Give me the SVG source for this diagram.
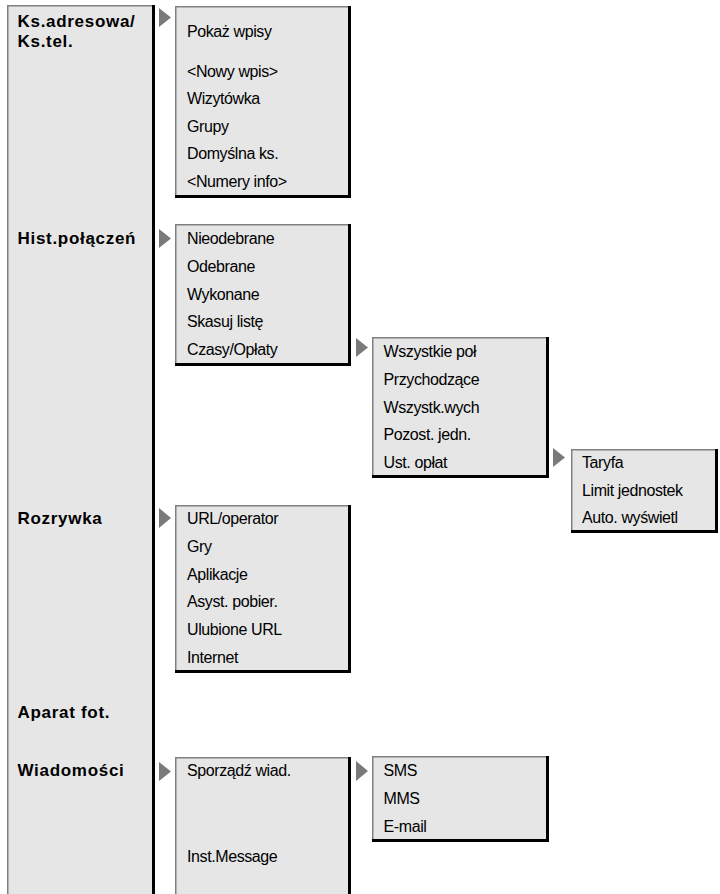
<svg xmlns="http://www.w3.org/2000/svg" width="720" height="894" viewBox="0 0 720 894">
<defs>
<style>
.bg{fill:#e6e6e6}
.gl{fill:none;stroke:#808080;stroke-width:1.5}
.bl{fill:none;stroke:#000;stroke-width:3}
.tri{fill:#7a7a7a}
.t{font-family:"Liberation Sans",Arial,sans-serif;font-size:16px;letter-spacing:-0.4px;fill:#000}
.b{font-family:"Liberation Sans",Arial,sans-serif;font-size:17px;font-weight:bold;letter-spacing:0.7px;fill:#000}
</style>
</defs>
<rect width="720" height="894" fill="#fff"/>
<g id="main-panel">
<rect class="bg" x="7" y="5" width="147" height="889"/>
<path class="gl" d="M7.75,894 V5.75 H153"/>
<path class="bl" d="M153.5,5 V894"/>
<text class="b" x="17.5" y="27">Ks.adresowa/</text>
<text class="b" x="17.5" y="47">Ks.tel.</text>
<text class="b" x="17.5" y="244">Hist.połączeń</text>
<text class="b" x="17.5" y="524">Rozrywka</text>
<text class="b" x="17.5" y="718">Aparat fot.</text>
<text class="b" x="17.5" y="776">Wiadomości</text>
</g>
<g id="connectors">
<polygon class="tri" points="159,8 171,17.5 159,27"/>
<polygon class="tri" points="159,229 171,238.5 159,248"/>
<polygon class="tri" points="356,338 368,347.5 356,357"/>
<polygon class="tri" points="553,448 565,457.5 553,467"/>
<polygon class="tri" points="159,508 171,518 159,528"/>
<polygon class="tri" points="159,762 171,771.5 159,781"/>
<polygon class="tri" points="356,761 368,771 356,781"/>
</g>
<g id="box-ksadresowa">
<rect class="bg" x="175" y="6" width="176" height="192"/>
<path class="gl" d="M175.75,198 V6.75 H351"/>
<path class="bl" d="M349.5,6 V196.5 H175"/>
<text class="t" x="187" y="37">Pokaż wpisy</text>
<text class="t" x="187" y="77">&lt;Nowy wpis&gt;</text>
<text class="t" x="187" y="104">Wizytówka</text>
<text class="t" x="187" y="131.5">Grupy</text>
<text class="t" x="187" y="159">Domyślna ks.</text>
<text class="t" x="187" y="187">&lt;Numery info&gt;</text>
</g>
<g id="box-hist">
<rect class="bg" x="175" y="224" width="176" height="142"/>
<path class="gl" d="M175.75,366 V224.75 H351"/>
<path class="bl" d="M349.5,224 V364.5 H175"/>
<text class="t" x="187" y="244">Nieodebrane</text>
<text class="t" x="187" y="272">Odebrane</text>
<text class="t" x="187" y="299.5">Wykonane</text>
<text class="t" x="187" y="327">Skasuj listę</text>
<text class="t" x="187" y="355">Czasy/Opłaty</text>
</g>
<g id="box-czasy">
<rect class="bg" x="372" y="337" width="177" height="141"/>
<path class="gl" d="M372.75,478 V337.75 H549"/>
<path class="bl" d="M547.5,337 V476.5 H372"/>
<text class="t" x="383.5" y="356.5">Wszystkie poł</text>
<text class="t" x="383.5" y="384.5">Przychodzące</text>
<text class="t" x="383.5" y="412.5">Wszystk.wych</text>
<text class="t" x="383.5" y="440">Pozost. jedn.</text>
<text class="t" x="383.5" y="467.7">Ust. opłat</text>
</g>
<g id="box-ustoplat">
<rect class="bg" x="571" y="449" width="147" height="84"/>
<path class="gl" d="M571.75,533 V449.75 H718"/>
<path class="bl" d="M716.5,449 V531.5 H571"/>
<text class="t" x="582" y="467.7">Taryfa</text>
<text class="t" x="582" y="495.5">Limit jednostek</text>
<text class="t" x="582" y="523">Auto. wyświetl</text>
</g>
<g id="box-rozrywka">
<rect class="bg" x="175" y="505" width="176" height="168"/>
<path class="gl" d="M175.75,673 V505.75 H351"/>
<path class="bl" d="M349.5,505 V671.5 H175"/>
<text class="t" x="187" y="524">URL/operator</text>
<text class="t" x="187" y="552">Gry</text>
<text class="t" x="187" y="579.5">Aplikacje</text>
<text class="t" x="187" y="607">Asyst. pobier.</text>
<text class="t" x="187" y="635">Ulubione URL</text>
<text class="t" x="187" y="663">Internet</text>
</g>
<g id="box-wiadomosci">
<rect class="bg" x="175" y="757" width="176" height="137"/>
<path class="gl" d="M175.75,894 V757.75 H351"/>
<path class="bl" d="M349.5,757 V894"/>
<text class="t" x="187" y="776">Sporządź wiad.</text>
<text class="t" x="187" y="862">Inst.Message</text>
</g>
<g id="box-sporzadz">
<rect class="bg" x="372" y="756" width="177" height="86"/>
<path class="gl" d="M372.75,842 V756.75 H549"/>
<path class="bl" d="M547.5,756 V840.5 H372"/>
<text class="t" x="383.5" y="776">SMS</text>
<text class="t" x="383.5" y="804">MMS</text>
<text class="t" x="383.5" y="832">E-mail</text>
</g>
</svg>
